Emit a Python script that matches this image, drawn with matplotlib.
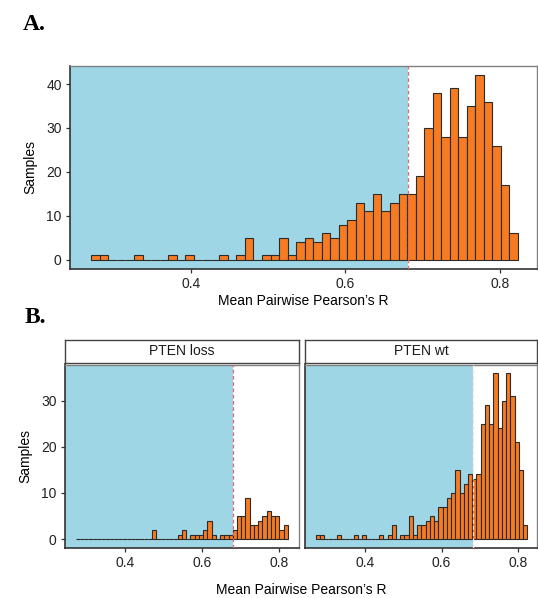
import numpy as np
import matplotlib
matplotlib.use("Agg")
import matplotlib.pyplot as plt

plt.rcParams.update({
    'font.family': 'Liberation Sans',
    'font.size': 10,
    'xtick.labelsize': 10,
    'ytick.labelsize': 10,
})

# histogram bins for mean pairwise Pearson's R
bin_start = 0.2714
bin_width = 0.01104
n_bins = 50

# sample counts per bin, split by PTEN status
pten_loss = [0, 0, 0, 0, 0, 0, 0, 0, 0, 0, 0, 0, 0, 0, 0, 0, 0, 0,
             2, 0, 0, 0, 0, 0, 1, 2, 0, 1, 1, 1, 2, 4, 1, 0, 1, 1,
             1, 2, 5, 5, 9, 3, 3, 4, 5, 6, 5, 5, 2, 3]
pten_wt = [1, 1, 0, 0, 0, 1, 0, 0, 0, 1, 0, 1, 0, 0, 0, 1, 0, 1,
           3, 0, 1, 1, 5, 1, 3, 3, 4, 5, 4, 7, 7, 9, 10, 15, 10, 12,
           14, 13, 14, 25, 29, 25, 36, 24, 30, 36, 31, 21, 15, 3]
facet_names = ['PTEN loss', 'PTEN wt']

threshold = 0.681
xlim = (0.2438, 0.8508)

bar_color = '#f77b22'
shade_color = '#9ed6e6'
line_color = '#e8666e'
W, H = 538, 598

edges = bin_start + bin_width * np.arange(n_bins)
all_samples = np.array(pten_loss) + np.array(pten_wt)


def px_axes(fig, left, top, right, bottom):
    return fig.add_axes([left / W, 1 - bottom / H, (right - left) / W, (bottom - top) / H])


def draw_hist(ax, counts, ymax, vline_color, x_hi=xlim[1]):
    ax.axvspan(xlim[0], threshold, color=shade_color, lw=0, zorder=0)
    ax.bar(edges, counts, width=bin_width, align='edge', color=bar_color,
           edgecolor='#2b2b2b', linewidth=0.8, zorder=2)
    ax.axvline(threshold, color=vline_color, ls=(0, (3, 2)), lw=0.9, zorder=3)
    ax.set_xlim(xlim[0], x_hi)
    ax.set_ylim(-ymax * 0.05, ymax * 1.05)
    ax.set_xticks([0.4, 0.6, 0.8])
    ax.set_xticklabels(['0.4', '0.6', '0.8'])
    ax.tick_params(direction='out', length=3, width=0.9, color='#333333',
                   labelcolor='#222222', pad=3)
    for side in ['left', 'bottom']:
        ax.spines[side].set_color('#333333')
        ax.spines[side].set_linewidth(1.2)
    for side in ['top', 'right']:
        ax.spines[side].set_color('#808080')
        ax.spines[side].set_linewidth(1.0)


fig = plt.figure(figsize=(W / 100, H / 100), dpi=100)

# A: all samples
axA = px_axes(fig, 70, 66, 537, 269)
draw_hist(axA, all_samples, all_samples.max(), line_color, x_hi=0.848)
axA.set_yticks([0, 10, 20, 30, 40])
axA.set_xlabel('Mean Pairwise Pearson\u2019s R', fontsize=10, labelpad=2)
axA.set_ylabel('Samples', fontsize=10, labelpad=6)

# B: faceted by PTEN status
ymax_b = max(max(pten_loss), max(pten_wt))
facet_x = [(65, 298.5), (305, 537)]
facet_xhi = [xlim[1], 0.8488]
vline_colors = [line_color, '#f6e2e2']
for i, (name, counts) in enumerate(zip(facet_names, [pten_loss, pten_wt])):
    left, right = facet_x[i]
    ax = px_axes(fig, left, 364.5, right, 547.5)
    draw_hist(ax, counts, ymax_b, vline_colors[i], x_hi=facet_xhi[i])
    ax.set_yticks([0, 10, 20, 30])
    if i == 0:
        ax.set_ylabel('Samples', fontsize=10, labelpad=6)
    else:
        ax.set_yticklabels([])
        ax.tick_params(axis='y', length=0)

    strip = px_axes(fig, left, 340, right, 362.7)
    strip.set_xticks([])
    strip.set_yticks([])
    for sp in strip.spines.values():
        sp.set_color('#444444')
        sp.set_linewidth(1.0)
    strip.text(0.5, 0.5, name, ha='center', va='center', fontsize=10,
               color='#1a1a1a', transform=strip.transAxes)

fig.text(301 / W, 1 - 590 / H, 'Mean Pairwise Pearson\u2019s R', ha='center',
         va='center', fontsize=10)

fig.text(23 / W, 1 - 30 / H, 'A.', family='Liberation Serif', weight='bold',
         fontsize=17, va='baseline')
fig.text(25 / W, 1 - 323 / H, 'B.', family='Liberation Serif', weight='bold',
         fontsize=17, va='baseline')

fig.savefig('out.png', dpi=100)
